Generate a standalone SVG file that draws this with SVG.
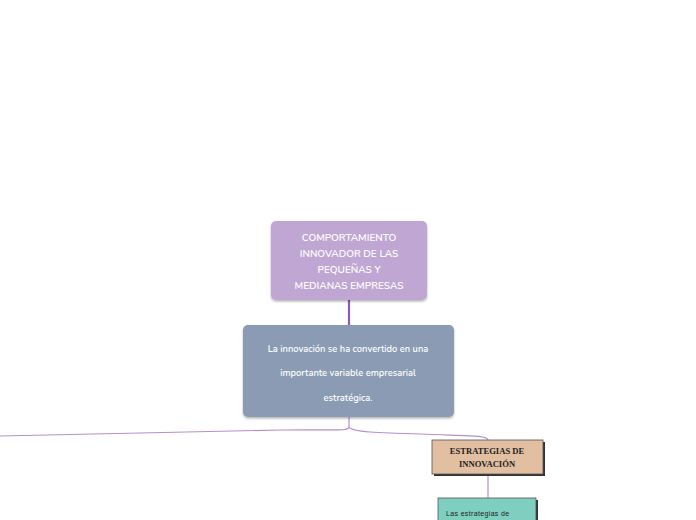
<svg xmlns="http://www.w3.org/2000/svg" width="696" height="520" viewBox="0 0 696 520">
<style>
.t{font-family:"Nunito","Open Sans","Liberation Sans",sans-serif;fill:#ffffff;text-anchor:middle;font-weight:600}
.s{font-family:"Liberation Serif",serif;font-weight:bold;fill:#222;text-anchor:middle;font-size:8.6px}
.c{fill:none;stroke:#b48fd0;stroke-width:1.2}
</style>
<defs>
<filter id="sh" x="-10%" y="-10%" width="120%" height="130%">
<feDropShadow dx="0" dy="1.5" stdDeviation="1.2" flood-color="#000" flood-opacity="0.3"/>
</filter>
</defs>
<rect width="696" height="520" fill="#ffffff"/>
<g id="connectors">
<line x1="349" y1="300" x2="349" y2="325" stroke="#8a5cb8" stroke-width="2.2"/>
<path class="c" d="M349,417 V427 C349,432 330,429 280,430 L0,436"/>
<path class="c" d="M349,427 C351,432 380,433 420,434 C470,436 487,435 488,440"/>
<line class="c" x1="488" y1="474" x2="488" y2="498"/>
</g>
<g id="node-top">
<rect x="271" y="221" width="156" height="79" rx="5" fill="#c0a7d3" filter="url(#sh)"/>
<text class="t" font-size="10" x="349" y="241">COMPORTAMIENTO</text>
<text class="t" font-size="10" x="349" y="257">INNOVADOR DE LAS</text>
<text class="t" font-size="10" x="349" y="273">PEQUEÑAS Y</text>
<text class="t" font-size="10" x="349" y="289">MEDIANAS EMPRESAS</text>
</g>
<g id="node-innovacion">
<rect x="243" y="325" width="211" height="92" rx="5" fill="#8a9bb3" filter="url(#sh)"/>
<text class="t" font-size="9.3" x="348" y="352">La innovación se ha convertido en una</text>
<text class="t" font-size="9.3" x="348" y="376">importante variable empresarial</text>
<text class="t" font-size="9.3" x="348" y="401">estratégica.</text>
</g>
<g id="node-estrategias">
<rect x="434" y="442" width="111" height="34" fill="#333"/>
<rect x="432" y="440" width="111" height="34" fill="#e2bfa0" stroke="#555" stroke-width="0.8"/>
<text class="s" x="487" y="454">ESTRATEGIAS DE</text>
<text class="s" x="487" y="467">INNOVACIÓN</text>
</g>
<g id="node-las-estrategias">
<rect x="440" y="500" width="98" height="30" fill="#333"/>
<rect x="438" y="498" width="98" height="30" fill="#7ecfc0" stroke="#555" stroke-width="0.8"/>
<text x="446" y="516" font-family="Liberation Sans,sans-serif" font-size="7" letter-spacing="0.35" fill="#222">Las estrategias de</text>
</g>
</svg>
